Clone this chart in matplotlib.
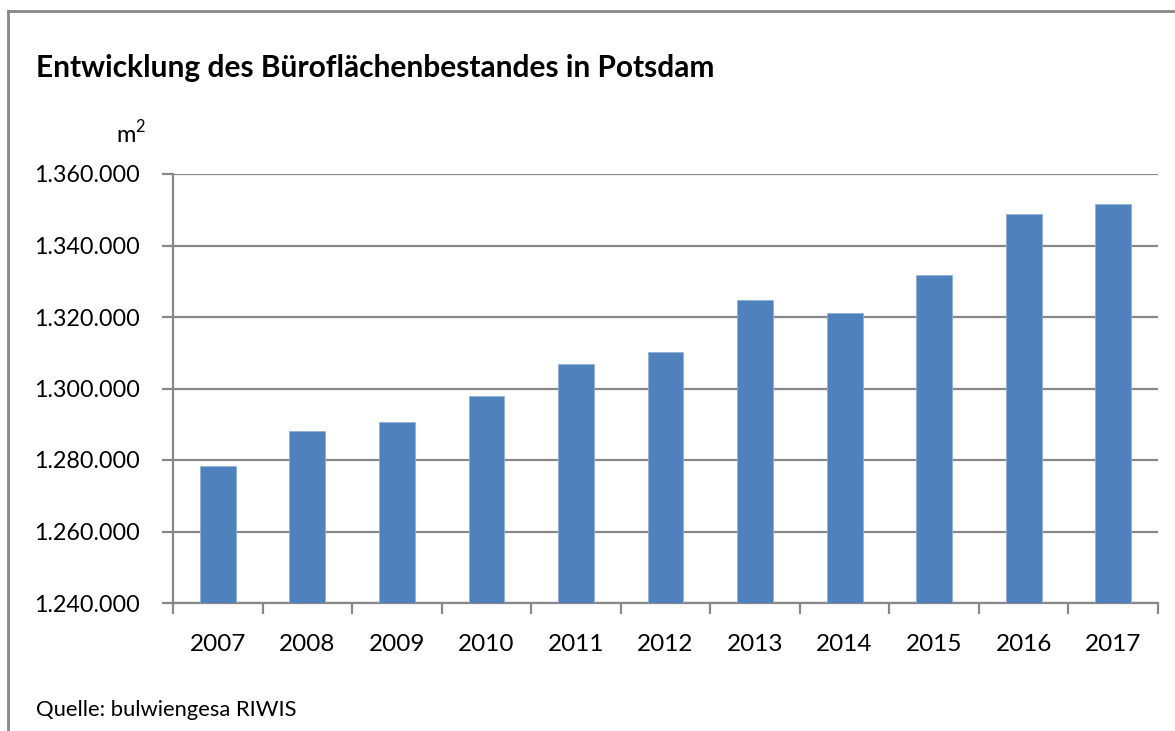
import matplotlib
matplotlib.use("Agg")
import matplotlib.pyplot as plt
import numpy as np
from matplotlib.ticker import FuncFormatter, FixedLocator

# Daten
jahre = ['2007', '2008', '2009', '2010', '2011', '2012',
         '2013', '2014', '2015', '2016', '2017']
bestand = [1278400, 1288100, 1290500, 1297900, 1306800, 1310200,
           1324700, 1321200, 1331700, 1348800, 1351600]

titel = 'Entwicklung des Büroflächenbestandes in Potsdam'
quelle = 'Quelle: bulwiengesa RIWIS'

plt.rcParams['font.family'] = ['Lato', 'DejaVu Sans']

fig = plt.figure(figsize=(11.75, 7.31), dpi=100)
ax = fig.add_axes([173 / 1175, 1 - 603 / 731, 985 / 1175, 429 / 731])

grau = '#888888'
x = np.arange(len(jahre)) + 0.5
ax.bar(x, bestand, width=0.4, color='#4f81bd', edgecolor='#8fb0d8',
       linewidth=0.6, zorder=3)

ax.set_xlim(0, len(jahre))
ax.set_ylim(1240000, 1360000)
ax.set_yticks(np.arange(1240000, 1360001, 20000))
ax.yaxis.set_major_formatter(FuncFormatter(lambda v, p: f'{v:,.0f}'.replace(',', '.')))
ax.grid(axis='y', color=grau, linewidth=1.6, zorder=0)

# Kategorien: Striche an den Grenzen, Beschriftung in der Mitte
ax.xaxis.set_major_locator(FixedLocator(np.arange(len(jahre) + 1)))
ax.xaxis.set_minor_locator(FixedLocator(x))
ax.set_xticklabels([], minor=False)
ax.set_xticklabels(jahre, minor=True)
ax.tick_params(axis='x', which='major', length=8, width=1.6, color=grau)
ax.tick_params(axis='x', which='minor', length=0, pad=22, labelsize=17.5)
ax.tick_params(axis='y', length=8, width=1.6, color=grau, pad=16, labelsize=16.8)

for s in ['top', 'right']:
    ax.spines[s].set_visible(False)
for s in ['left', 'bottom']:
    ax.spines[s].set_color(grau)
    ax.spines[s].set_linewidth(1.6)

fig.text(36 / 1175, 1 - 68 / 731, titel, fontsize=21.5, fontweight='bold', va='center', ha='left')
fig.text(146 / 1175, 1 - 133 / 731, 'm$^\\mathregular{2}$', fontsize=17, va='center', ha='right')
fig.text(36 / 1175, 1 - 710 / 731, quelle, fontsize=15.8, va='center', ha='left')

# Rahmen
fig.add_artist(plt.Line2D([8 / 1175, 8 / 1175], [0, 1 - 11 / 731], color=grau, linewidth=2))
fig.add_artist(plt.Line2D([8 / 1175, 1], [1 - 11 / 731, 1 - 11 / 731], color=grau, linewidth=2))

fig.savefig('out.png', dpi=100)
